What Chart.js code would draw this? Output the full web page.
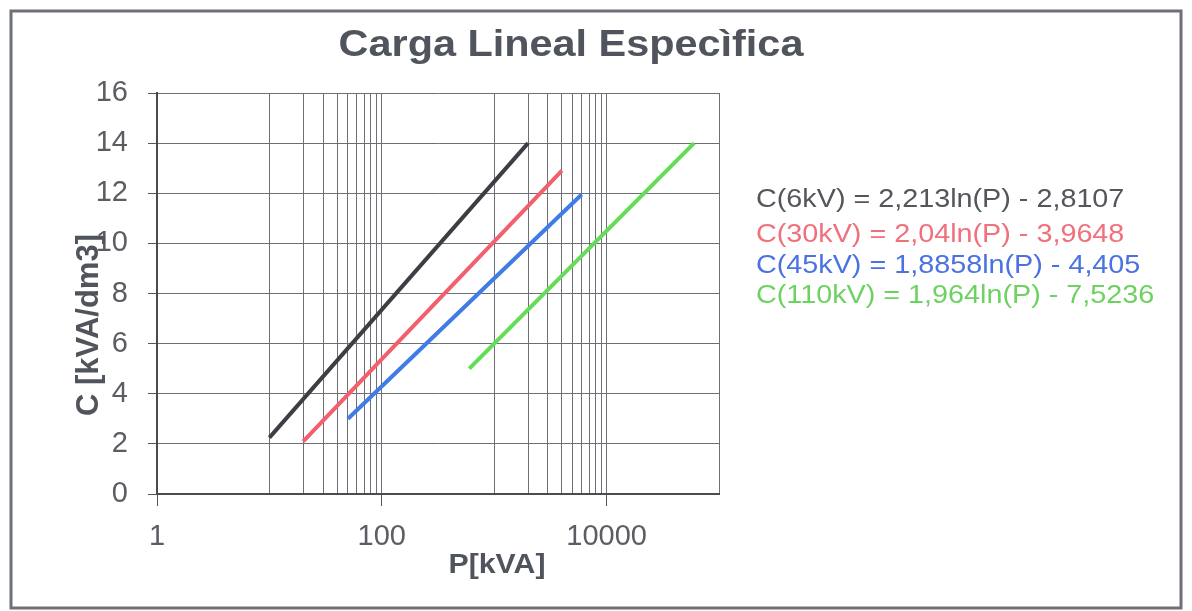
<!DOCTYPE html>
<html>
<head>
<meta charset="utf-8">
<script src="https://cdn.jsdelivr.net/npm/chart.js"></script>
<style>
  html, body { margin: 0; padding: 0; background: #fff; }
</style>
</head>
<body>
<canvas id="myChart" width="1192" height="611"></canvas>
<script>
// values: first and last point of each line (P in kVA, C in kVA/dm3)
var seriesNames = [
  "C(6kV) = 2,213ln(P) - 2,8107",
  "C(30kV) = 2,04ln(P) - 3,9648",
  "C(45kV) = 1,8858ln(P) - 4,405",
  "C(110kV) = 1,964ln(P) - 7,5236"
];
var p6 = [10, 2000];
var c6 = [2.25, 14];
var p30 = [20, 4000];
var c30 = [2.1, 12.9];
var p45 = [50, 6000];
var c45 = [3.0, 11.95];
var p110 = [600, 60000];
var c110 = [5.0, 14.0];

var xGridValues = [1, 10, 20, 30, 40, 50, 60, 70, 80, 90, 100,
                   1000, 2000, 3000, 4000, 5000, 6000, 7000, 8000, 9000, 10000, 100000];
var xLabelValues = [1, 100, 10000];
var yTickValues = [0, 2, 4, 6, 8, 10, 12, 14, 16];

var lineColors = ["#3d3e44", "#f2606e", "#3f7ce6", "#62de55"];
var textColors = ["#55565c", "#f0707c", "#4a72e0", "#6ed262"];

var fontFamily = "'Liberation Sans', Arial, sans-serif";
var tickGray = "#5c5d63";
var titleGray = "#50545c";

function toPoints(xs, ys) {
  return xs.map(function (x, i) { return { x: x, y: ys[i] }; });
}

function drawText(ctx, text, x, y, font, color, align, sx) {
  ctx.save();
  ctx.font = font;
  ctx.fillStyle = color;
  ctx.textAlign = align;
  ctx.textBaseline = "middle";
  ctx.translate(x, y);
  ctx.scale(sx, 1);
  ctx.fillText(text, 0, 0);
  ctx.restore();
}

// background, outer frame, title, axis titles and the equation list
var frame = {
  id: "frame",
  beforeDraw: function (chart) {
    var ctx = chart.ctx;
    ctx.save();
    ctx.fillStyle = "#fff";
    ctx.fillRect(0, 0, chart.width, chart.height);
    ctx.restore();
  },
  afterDraw: function (chart) {
    var ctx = chart.ctx;
    var a = chart.chartArea;
    ctx.save();
    ctx.strokeStyle = "#6c7078";
    ctx.lineWidth = 3;
    ctx.strokeRect(11, 11, chart.width - 22, chart.height - 14);
    ctx.restore();

    drawText(ctx, "Carga Lineal Especìfica", 571, 46, "bold 36px " + fontFamily, titleGray, "center", 1.15);
    drawText(ctx, "P[kVA]", 497, 566, "bold 27px " + fontFamily, titleGray, "center", 1.12);

    ctx.save();
    ctx.translate(89, 325);
    ctx.rotate(-Math.PI / 2);
    ctx.font = "bold 31px " + fontFamily;
    ctx.fillStyle = titleGray;
    ctx.textAlign = "center";
    ctx.textBaseline = "middle";
    ctx.fillText("C [kVA/dm3]", 0, 0);
    ctx.restore();

    var rows = [200, 235, 266, 296];
    chart.data.datasets.forEach(function (ds, i) {
      drawText(ctx, ds.label, a.right + 37, rows[i], "25px " + fontFamily, textColors[i], "left", 1.15);
    });
  }
};

new Chart("myChart", {
  type: "scatter",
  data: {
    datasets: [
      { label: seriesNames[0], data: toPoints(p6, c6), borderColor: lineColors[0] },
      { label: seriesNames[1], data: toPoints(p30, c30), borderColor: lineColors[1] },
      { label: seriesNames[2], data: toPoints(p45, c45), borderColor: lineColors[2] },
      { label: seriesNames[3], data: toPoints(p110, c110), borderColor: lineColors[3] }
    ]
  },
  options: {
    responsive: false,
    animation: false,
    devicePixelRatio: 1,
    showLine: true,
    elements: {
      line: { borderWidth: 4, tension: 0 },
      point: { radius: 0, hoverRadius: 0 }
    },
    layout: { padding: { left: 10, right: 473, top: 93, bottom: 57 } },
    plugins: {
      legend: { display: false },
      title: { display: false },
      tooltip: { enabled: false }
    },
    scales: {
      x: {
        type: "logarithmic",
        min: 1,
        max: 100000,
        afterBuildTicks: function (scale) {
          scale.ticks = xGridValues.map(function (v) { return { value: v }; });
        },
        afterFit: function (scale) { scale.height = 60; },
        ticks: {
          autoSkip: false,
          maxRotation: 0,
          padding: 14,
          color: tickGray,
          font: { family: fontFamily, size: 29 },
          callback: function (v) {
            return xLabelValues.indexOf(v) >= 0 ? String(v) : "";
          }
        },
        grid: {
          color: "#6e6f75",
          lineWidth: 1,
          tickLength: 12,
          tickColor: function (c) {
            return c.tick && xLabelValues.indexOf(c.tick.value) >= 0 ? "#55565c" : "rgba(0,0,0,0)";
          }
        },
        border: { color: "#4a4b50", width: 2 }
      },
      y: {
        min: 0,
        max: 16,
        afterBuildTicks: function (scale) {
          scale.ticks = yTickValues.map(function (v) { return { value: v }; });
        },
        afterFit: function (scale) { scale.width = 147; },
        ticks: {
          padding: 20,
          color: tickGray,
          font: { family: fontFamily, size: 29 }
        },
        grid: {
          color: "#6e6f75",
          lineWidth: 1,
          tickLength: 9,
          tickColor: "#55565c"
        },
        border: { color: "#4a4b50", width: 2 }
      }
    }
  },
  plugins: [frame]
});
</script>
</body>
</html>
